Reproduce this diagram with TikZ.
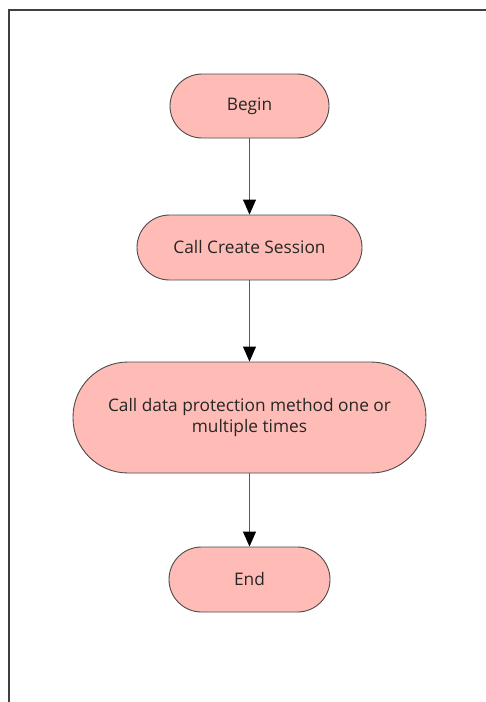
\documentclass[tikz,border=0pt]{standalone}
\usepackage{fontspec}
\setmainfont{Open Sans}
\usetikzlibrary{arrows.meta}
\definecolor{termfill}{HTML}{FFBCB7}
\definecolor{termline}{HTML}{4A4A4A}
\definecolor{flowline}{HTML}{5A5A5A}
\tikzset{
  x=1pt, y=-1pt,
  term/.style={draw=termline, fill=termfill, line width=0.9pt, align=center,
    font=\fontsize{17.3}{21.5}\selectfont, text=black!85, inner sep=0pt},
  flow/.style={draw=flowline, line width=1pt,
    -{Triangle[width=13pt,length=15pt,fill=black,color=black]}}
}
\begin{document}
\begin{tikzpicture}
  \useasboundingbox (0,0) rectangle (486,702);
  % page frame
  \draw[gray!50!black, line width=1.8pt] (8.8,702) -- (8.8,9.6) -- (486,9.6);

  % flow steps
  \node[term, minimum width=159pt, minimum height=64pt, rounded corners=32pt]
    (begin) at (249.5,106) {Begin};
  \node[term, minimum width=225pt, minimum height=65pt, rounded corners=32.5pt]
    (session) at (249.5,247.5) {Call Create Session};
  \node[term, minimum width=353pt, minimum height=111pt, rounded corners=55pt]
    (protect) at (249.5,417.5) {Call data protection method one or\\multiple times};
  \node[term, minimum width=161pt, minimum height=65pt, rounded corners=32.5pt]
    (end) at (249.5,579.5) {End};

  % connectors
  \draw[flow] (begin) -- (session);
  \draw[flow] (session) -- (protect);
  \draw[flow] (protect) -- (end);
\end{tikzpicture}
\end{document}
